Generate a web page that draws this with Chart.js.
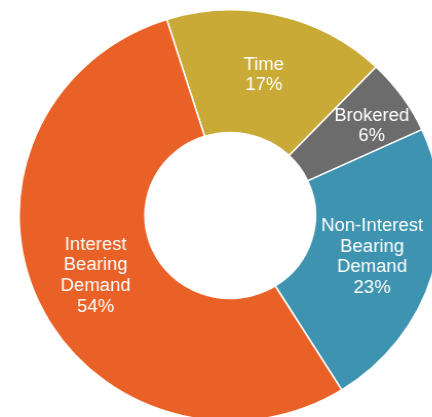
<!DOCTYPE html>
<html>
<head>
<meta charset="utf-8">
<script src="https://cdn.jsdelivr.net/npm/chart.js@4/dist/chart.umd.min.js"></script>
<style>
  html, body { margin: 0; padding: 0; background: #ffffff; }
  #wrap { position: relative; width: 432px; height: 417px; overflow: hidden; }
  #deposits { position: absolute; left: 0; top: 0; transform: scaleX(1.027); transform-origin: 230.4px 0; }
</style>
</head>
<body>
<div id="wrap"><canvas id="deposits" width="432" height="417"></canvas></div>
<script>
// Deposit mix, percent of total
const categories = ['Time', 'Brokered', 'Non-Interest Bearing Demand', 'Interest Bearing Demand'];
const labelLines = [['Time'], ['Brokered'], ['Non-Interest', 'Bearing', 'Demand'], ['Interest', 'Bearing', 'Demand']];
const shares = [17, 6, 23, 54];
const sliceColors = ['#C9AA37', '#6C6C6C', '#3E94B0', '#E96126'];

// Writes each slice's name and share inside its ring segment
const sliceLabels = {
  id: 'sliceLabels',
  afterDatasetsDraw(chart, args, opts) {
    const ctx = chart.ctx;
    const meta = chart.getDatasetMeta(0);
    ctx.save();
    ctx.fillStyle = '#ffffff';
    ctx.font = '18px "Liberation Sans", Arial, sans-serif';
    ctx.textAlign = 'center';
    ctx.textBaseline = 'middle';
    meta.data.forEach((arc, i) => {
      const p = arc.getProps(['x', 'y', 'startAngle', 'endAngle', 'innerRadius', 'outerRadius'], true);
      const mid = (p.startAngle + p.endAngle) / 2 + (opts.angleShift[i] || 0);
      const r = (p.innerRadius + p.outerRadius) / 2 + (opts.radialShift[i] || 0);
      const cx = p.x + Math.cos(mid) * r;
      const cy = p.y + Math.sin(mid) * r;
      const lines = labelLines[i].concat([shares[i] + '%']);
      const lh = 20.6;
      lines.forEach((t, k) => {
        ctx.fillText(t, cx, cy + (k - (lines.length - 1) / 2) * lh);
      });
    });
    ctx.restore();
  }
};

new Chart(document.getElementById('deposits'), {
  type: 'doughnut',
  data: {
    labels: categories,
    datasets: [{
      data: shares,
      backgroundColor: sliceColors,
      borderColor: '#ffffff',
      borderWidth: 1.5
    }]
  },
  options: {
    responsive: false,
    devicePixelRatio: 1,
    animation: false,
    rotation: -17.5,
    radius: 205.5,
    cutout: '40.4%',
    layout: { padding: { left: 28.4, right: 0, top: 14, bottom: 0 } },
    plugins: {
      legend: { display: false },
      tooltip: { enabled: false },
      sliceLabels: { radialShift: [0, 20, 0, 0], angleShift: [0, 0.045, 0, 0] }
    }
  },
  plugins: [sliceLabels]
});
</script>
</body>
</html>
